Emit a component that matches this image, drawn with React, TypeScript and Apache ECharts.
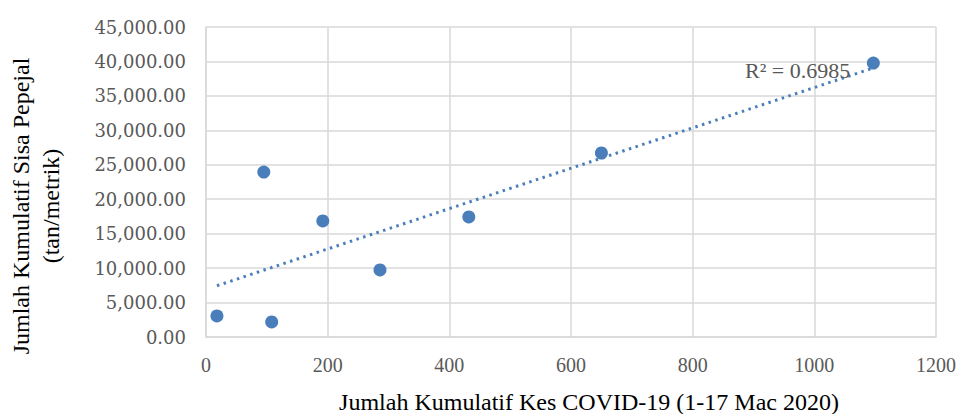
import React, { useEffect, useRef } from "react";
import * as echarts from "echarts";

const casesX: number[] = [18, 95, 108, 192, 286, 432, 650, 1097];
const wasteY: number[] = [3050, 23950, 2180, 16840, 9730, 17420, 26710, 39770];
const xTicks = { min: 0, max: 1200, interval: 200 };
const yTicks = { min: 0, max: 45000, interval: 5000 };
const yAxisTitle: string[] = ["Jumlah Kumulatif Sisa Pepejal", "(tan/metrik)"];
const xAxisTitle = "Jumlah Kumulatif Kes COVID-19 (1-17 Mac 2020)";
const r2Label = "R\u00B2 = 0.6985";

function linearFit(xs: number[], ys: number[]) {
  const n = xs.length;
  const mx = xs.reduce((a, b) => a + b, 0) / n;
  const my = ys.reduce((a, b) => a + b, 0) / n;
  let sxy = 0;
  let sxx = 0;
  for (let i = 0; i < n; i++) {
    sxy += (xs[i] - mx) * (ys[i] - my);
    sxx += (xs[i] - mx) * (xs[i] - mx);
  }
  const slope = sxy / sxx;
  return { slope, intercept: my - slope * mx };
}

export default function App() {
  const ref = useRef<HTMLDivElement>(null);
  useEffect(() => {
    document.body.style.margin = "0";
    if (!ref.current) return;
    const chart = echarts.init(ref.current, undefined, { renderer: "svg" });
    const fit = linearFit(casesX, wasteY);
    const x0 = Math.min(...casesX);
    const x1 = Math.max(...casesX);
    const trend = [
      [x0, fit.intercept + fit.slope * x0],
      [x1, fit.intercept + fit.slope * x1],
    ];
    const blue = "#4A7EBB";
    const grey = "#595959";
    chart.setOption({
      animation: false,
      backgroundColor: "#ffffff",
      grid: { left: 206, right: 22, top: 27, bottom: 77, containLabel: false },
      xAxis: {
        type: "value",
        min: xTicks.min,
        max: xTicks.max,
        interval: xTicks.interval,
        axisLine: { show: true, lineStyle: { color: "#d9d9d9", width: 1.5 } },
        axisTick: { show: false },
        splitLine: { show: true, lineStyle: { color: "#d9d9d9", width: 1.5 } },
        axisLabel: {
          margin: 18,
          color: grey,
          fontFamily: "Liberation Serif",
          fontSize: 20,
          formatter: (v: number) => String(v),
        },
      },
      yAxis: {
        type: "value",
        min: yTicks.min,
        max: yTicks.max,
        interval: yTicks.interval,
        axisLine: { show: true, lineStyle: { color: "#d9d9d9", width: 1.5 } },
        axisTick: { show: false },
        splitLine: { show: true, lineStyle: { color: "#d9d9d9", width: 1.5 } },
        axisLabel: {
          margin: 20,
          color: grey,
          fontFamily: "DejaVu Serif",
          fontSize: 18,
          formatter: (v: number) =>
            v.toLocaleString("en-US", { minimumFractionDigits: 2, maximumFractionDigits: 2 }),
        },
      },
      series: [
        {
          type: "line",
          data: trend,
          symbol: "none",
          silent: true,
          lineStyle: { color: blue, width: 3, type: [2.5, 4.5] },
          z: 2,
        },
        {
          type: "scatter",
          data: casesX.map((x, i) => [x, wasteY[i]]),
          symbol: "circle",
          symbolSize: 13,
          itemStyle: { color: blue, opacity: 1 },
          z: 3,
        },
      ],
      graphic: [
        {
          type: "text",
          x: 36,
          y: 206,
          rotation: Math.PI / 2,
          style: {
            text: yAxisTitle.join("\n"),
            fontFamily: "Liberation Serif",
            fontSize: 24,
            lineHeight: 30,
            fill: "#000000",
            align: "center",
            verticalAlign: "middle",
          },
        },
        {
          type: "text",
          x: 589,
          y: 402,
          style: {
            text: xAxisTitle,
            fontFamily: "Liberation Serif",
            fontSize: 24,
            fill: "#000000",
            align: "center",
            verticalAlign: "middle",
          },
        },
        {
          type: "text",
          x: 745,
          y: 70,
          z: 10,
          style: {
            text: r2Label,
            fontFamily: "Liberation Serif",
            fontSize: 22,
            fill: grey,
            align: "left",
            verticalAlign: "middle",
          },
        },
      ],
    });
    return () => chart.dispose();
  }, []);
  return <div ref={ref} style={{ width: 959, height: 414 }} />;
}
